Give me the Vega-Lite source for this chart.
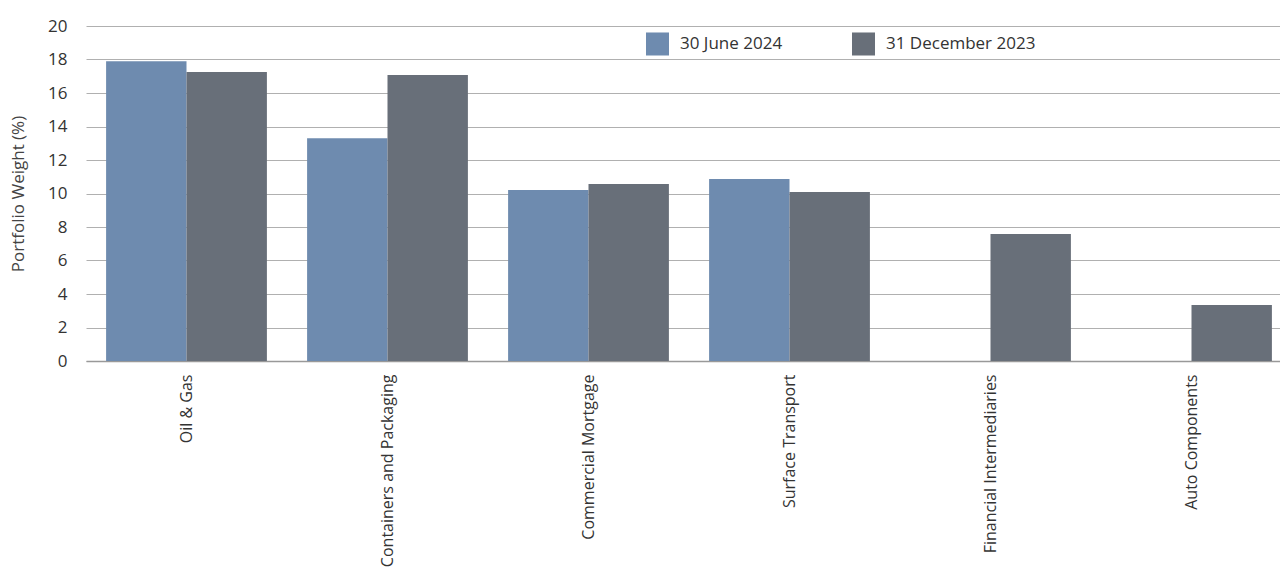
{
  "$schema": "https://vega.github.io/schema/vega-lite/v6.json",
  "width": 1206,
  "height": 335,
  "autosize": {"type": "none"},
  "padding": {"left": 86, "top": 26, "right": 0, "bottom": 212},
  "background": "white",
  "data": {
    "values": [
      {"sector": "Oil & Gas", "period": "30 June 2024", "weight": 17.9},
      {"sector": "Oil & Gas", "period": "31 December 2023", "weight": 17.25},
      {"sector": "Containers and Packaging", "period": "30 June 2024", "weight": 13.3},
      {"sector": "Containers and Packaging", "period": "31 December 2023", "weight": 17.07},
      {"sector": "Commercial Mortgage", "period": "30 June 2024", "weight": 10.21},
      {"sector": "Commercial Mortgage", "period": "31 December 2023", "weight": 10.57},
      {"sector": "Surface Transport", "period": "30 June 2024", "weight": 10.87},
      {"sector": "Surface Transport", "period": "31 December 2023", "weight": 10.09},
      {"sector": "Financial Intermediaries", "period": "30 June 2024", "weight": 0},
      {"sector": "Financial Intermediaries", "period": "31 December 2023", "weight": 7.58},
      {"sector": "Auto Components", "period": "30 June 2024", "weight": 0},
      {"sector": "Auto Components", "period": "31 December 2023", "weight": 3.34}
    ]
  },
  "mark": {"type": "bar"},
  "encoding": {
    "x": {
      "field": "sector",
      "type": "nominal",
      "sort": null,
      "title": null,
      "scale": {"paddingInner": 0.2, "paddingOuter": 0.1},
      "axis": {
        "labelAngle": -90,
        "labelAlign": "right",
        "labelBaseline": "middle",
        "labelPadding": 13,
        "labelLimit": 0,
        "ticks": false,
        "domainColor": "#999999",
        "domainWidth": 1.5,
        "labelFontSize": 16,
        "labelColor": "#333333"
      }
    },
    "xOffset": {"field": "period", "type": "nominal", "scale": {"paddingInner": 0, "paddingOuter": 0}},
    "y": {
      "field": "weight",
      "type": "quantitative",
      "title": "Portfolio Weight (%)",
      "scale": {"domain": [0, 20], "nice": false},
      "axis": {
        "values": [0, 2, 4, 6, 8, 10, 12, 14, 16, 18, 20],
        "domain": false,
        "ticks": false,
        "labelPadding": 19,
        "labelFontSize": 17,
        "labelColor": "#333333",
        "gridColor": "#b0b0b0",
        "titleFontSize": 17,
        "titleFontWeight": "normal",
        "titleColor": "#444444",
        "titlePadding": 20
      }
    },
    "color": {
      "field": "period",
      "type": "nominal",
      "title": null,
      "scale": {"domain": ["30 June 2024", "31 December 2023"], "range": ["#6e8baf", "#686f79"]},
      "legend": {
        "orient": "none",
        "direction": "horizontal",
        "legendX": 559,
        "legendY": 5,
        "symbolType": "square",
        "symbolSize": 530,
        "symbolOpacity": 1,
        "labelFontSize": 17,
        "labelColor": "#333333",
        "labelOffset": 10,
        "columnPadding": 68
      }
    }
  },
  "config": {
    "font": "Open Sans",
    "view": {"stroke": null}
  }
}
